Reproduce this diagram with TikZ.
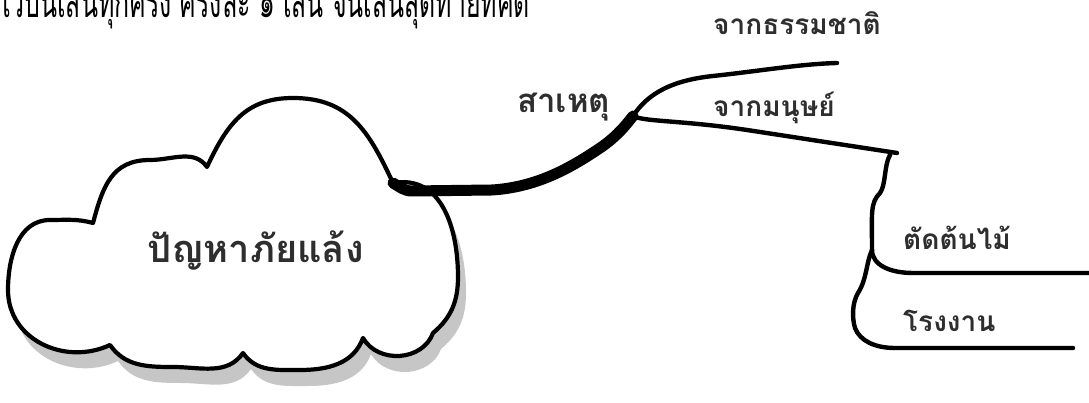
\documentclass[tikz,border=0pt]{standalone}
\usepackage{fontspec}
\newfontfamily\thaifont[Script=Thai]{Loma}
\begin{document}
\begin{tikzpicture}[x=1pt,y=1pt,
  lbl/.style={anchor=base west,inner sep=0pt,text=black!82,font=\thaifont\bfseries\fontsize{28}{30}\selectfont},
  branch/.style={line width=4.4pt,line cap=round,line join=round},
  cloudline/.style={line width=4.2pt,line join=round}]
\useasboundingbox (0,0) rectangle (1089,403);
% top (cut-off) text
\node[anchor=base west,inner sep=0pt,text=black,xscale=0.565,font=\thaifont\fontsize{44}{46}\selectfont] (top) at (-2,385) {ไว้บนเส้นทุกครั้ง ครั้งละ ๑ เส้น จนเส้นสุดท้ายที่คิด};
% cloud points
\coordinate (n1) at (93,180);
\coordinate (n2) at (207,236);
\coordinate (n3) at (393,220);
\coordinate (n4) at (433,70);
\coordinate (n5) at (363,65);
\coordinate (n6) at (243,50);
\coordinate (n7) at (110,58);
\def\cloudpath{(93,180) to[out=75,in=180,looseness=1.15] (150,243) to[out=0,in=125] (207,236)
  to[out=65,in=180,looseness=1.1] (293,305) to[out=0,in=115,looseness=1.1] (393,220)
  to[out=10,in=90,looseness=1.1] (458,126) to[out=-90,in=40] (433,70)
  to[out=-110,in=-60,looseness=1.1] (363,65)
  to[out=-110,in=0] (300,33) to[out=180,in=-55] (243,50)
  to[out=-125,in=0] (173,36) to[out=180,in=-55] (110,58)
  to[out=-155,in=-90,looseness=1.1] (8,113) to[out=90,in=180] (50,183) to[out=0,in=165] cycle}
\fill[gray!45,shift={(8,-16)}] \cloudpath;
\filldraw[fill=white,draw=black,cloudline] \cloudpath;
\node[anchor=base west,inner sep=0pt,text=black!82,font=\thaifont\bfseries\fontsize{38}{40}\selectfont] (prob) at (147,140) {ปัญหาภัยแล้ง};
% thick branch
\coordinate (j) at (633,287);
\draw[line width=11pt,line cap=round] (n3) to[out=-30,in=180] (412,212) -- (492,213)
  .. controls (540,216) and (575,238) .. (603,257) .. controls (618,268) and (626,278) .. (j);
% branches
\coordinate (natEnd) at (837,340);
\coordinate (humEnd) at (897,250);
\coordinate (k) at (872,153);
\coordinate (treeEnd) at (1092,130);
\coordinate (facEnd) at (1073,55);
\draw[branch] (j) .. controls (645,305) and (665,322) .. (713,327) .. controls (760,332) and (800,339) .. (natEnd);
\draw[branch] (j) .. controls (645,281) and (680,283) .. (747,273) -- (humEnd);
\draw[branch] (890,248) .. controls (884,238) and (886,218) .. (880,210) .. controls (870,200) and (872,190) .. (k);
\draw[branch] (k) .. controls (872,138) and (890,130) .. (913,130) -- (treeEnd);
\draw[branch] (k) .. controls (866,140) and (867,124) .. (858,110) .. controls (852,100) and (852,85) .. (855,75) .. controls (860,62) and (875,55) .. (895,55) -- (facEnd);
% labels
\node[lbl] (nat) at (713,368) {จากธรรมชาติ};
\node[lbl,font=\thaifont\bfseries\fontsize{33}{35}\selectfont] (cause) at (517,290) {สาเหตุ};
\node[lbl] (hum) at (713,286) {จากมนุษย์};
\node[lbl] (tree) at (903,153) {ตัดต้นไม้};
\node[lbl] (fac) at (903,71) {โรงงาน};
\end{tikzpicture}
\end{document}
